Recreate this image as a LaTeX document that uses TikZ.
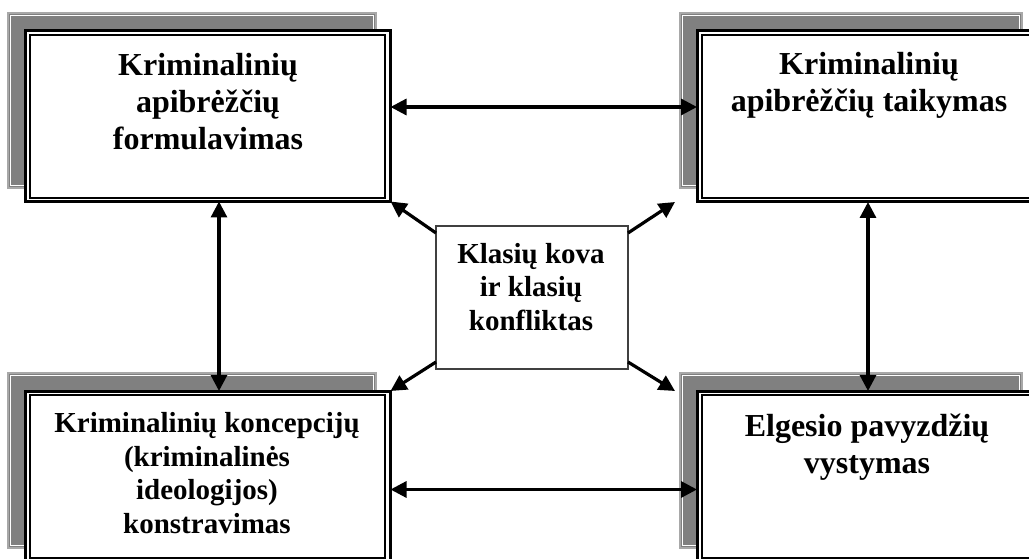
\documentclass[tikz,border=0pt]{standalone}
\usepackage{fontspec}
\setmainfont{Liberation Serif}
\usetikzlibrary{arrows.meta,calc}
\definecolor{shadowgray}{RGB}{128,128,128}
\definecolor{shadowedge}{RGB}{168,168,168}
\begin{document}
\begin{tikzpicture}[x=1pt,y=-1pt,
  shadowbox/.style={fill=shadowgray, draw=shadowedge, line width=1.4pt, inner sep=0pt, outer sep=0pt},
  outerbox/.style={fill=white, draw=black, line width=3pt, inner sep=0pt, outer sep=0pt},
  innerline/.style={draw=black, line width=1.8pt},
  shadowline/.style={draw=white, line width=1pt},
  centerbox/.style={fill=white, draw=black!75, line width=1.2pt, inner sep=0pt, outer sep=0pt},
  bigtext/.style={font=\bfseries\fontsize{32}{37}\selectfont, align=center, anchor=base, inner sep=0pt},
  smalltext/.style={font=\bfseries\fontsize{29}{33.5}\selectfont, align=center, anchor=base, inner sep=0pt},
  arr/.style={line width=3.2pt, {Triangle[length=16pt,width=16pt]}-{Triangle[length=16pt,width=16pt]}},
  arrone/.style={line width=3.2pt, -{Triangle[length=16pt,width=16pt]}},
]
\useasboundingbox (0,0) rectangle (1029,559);
\clip (0,0) rectangle (1029,559);

% shadows
\node[shadowbox, minimum width=368pt, minimum height=175pt] (sA) at (192,100.5) {};
\node[shadowbox, minimum width=342pt, minimum height=175pt] (sB) at (851,100.5) {};
\node[shadowbox, minimum width=368pt, minimum height=175pt] (sD) at (192,460.5) {};
\node[shadowbox, minimum width=342pt, minimum height=175pt] (sE) at (851,460.5) {};
\foreach \s in {sA,sB,sD,sE}{
  \draw[shadowline] ([shift={(2.4,2.4)}]\s.north west) rectangle ([shift={(-2.4,-2.4)}]\s.south east);
}

% main boxes
\node[outerbox, minimum width=365pt, minimum height=170.5pt] (A) at (208,116.25) {};
\node[outerbox, minimum width=365pt, minimum height=171pt] (B) at (879.5,116.5) {};
\node[outerbox, minimum width=365pt, minimum height=170.5pt] (D) at (208,476.25) {};
\node[outerbox, minimum width=365pt, minimum height=170.5pt] (E) at (879.5,476.25) {};
\foreach \b in {A,B,D,E}{
  \draw[innerline] ([shift={(4.8,4.3)}]\b.north west) rectangle ([shift={(-5.5,-3.8)}]\b.south east);
}

% center box
\node[centerbox, minimum width=192pt, minimum height=143pt] (C) at (532,297.5) {};

% texts (anchor=base is the baseline of the last line)
\node[bigtext] (At) at (208,150) {Kriminalinių\\apibrėžčių\\formulavimas};
\node[bigtext] (Bt) at (869,112) {Kriminalinių\\apibrėžčių taikymas};
\node[smalltext] (Dt) at (207,533) {Kriminalinių koncepcijų\\(kriminalinės\\ideologijos)\\konstravimas};
\node[bigtext] (Et) at (867,473) {Elgesio pavyzdžių\\vystymas};
\node[smalltext] (Ct) at (531,330) {Klasių kova\\ir klasių\\konfliktas};

% connectors
\coordinate (h1) at (0,107);
\coordinate (h2) at (0,489.5);
\coordinate (v1) at (219,0);
\coordinate (v2) at (868,0);
\draw[arr] (A.east |- h1) -- (B.west |- h1);
\draw[arr] (D.east |- h2) -- (E.west |- h2);
\draw[arr] (A.south -| v1) -- (D.north -| v1);
\draw[arr] (B.south -| v2) -- (E.north -| v2);

\draw[arrone] ([yshift=-7pt]C.north west) -- (A.south east);
\draw[arrone] ([yshift=-7pt]C.north east) -- ([xshift=-22pt]B.south west);
\draw[arrone] ([yshift=7pt]C.south west) -- (D.north east);
\draw[arrone] ([yshift=7pt]C.south east) -- ([xshift=-22pt]E.north west);
\end{tikzpicture}
\end{document}
